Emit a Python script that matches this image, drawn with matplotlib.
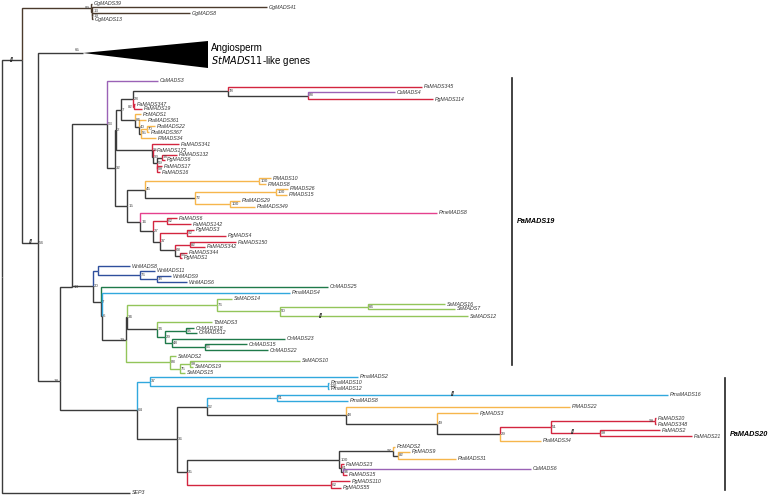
import matplotlib
matplotlib.use("Agg")
import matplotlib.pyplot as plt
from matplotlib.patches import Polygon

plt.rcParams["font.family"] = ["Liberation Sans", "DejaVu Sans"]

# ---------------------------------------------------------------------------
# Tree data.  Tip = (name, depth, row);  node = (support, depth, [children]).
# ---------------------------------------------------------------------------
GG_CLADE = ("89", 91, [
    ("GgMADS39", 92, 4),
    ("13", 92, [("GgMADS41", 267, 7),
                ("19", 92, [("GgMADS8", 190, 13), ("GgMADS13", 93, 19)])]),
])

PA19_UPPER = ("53", 107, [
    ("CaMADS3", 158, 81),
    ("32", 115, [
        ("2", 116, [
            ("7", 121, [
                ("28", 133, [
                    ("78", 228, [("PaMADS345", 422, 87),
                                 ("88", 308, [("CaMADS4", 395, 92), ("PgMADS114", 433, 99)])]),
                    ("82", 134, [("PaMADS347", 135, 104), ("PaMADS19", 142, 109)]),
                ]),
                ("84", 135, [
                    ("PcMADS1", 141, 114),
                    ("40", 139, [("PtaMADS361", 146, 120),
                                 ("55", 141, [("70", 147, [("PtaMADS22", 155, 126), ("PtaMADS367", 149, 132)]),
                                              ("PlMADS34", 156, 138)])]),
                ]),
            ]),
            ("95", 152, [("PaMADS341", 179, 144),
                         ("90", 153, [("PaMADS172", 155, 150),
                                      ("59", 157, [("74", 162, [("PaMADS132", 177, 155), ("PgMADS6", 165, 160)]),
                                                   ("99", 157, [("PaMADS17", 162, 166), ("PaMADS16", 160, 172)])])])]),
        ]),
        ("15", 127, [
            ("45", 145, [("100", 259, [("PlMADS10", 271, 178), ("PlMADS8", 266, 184)]),
                         ("72", 195, [("100", 276, [("PlMADS26", 288, 189), ("PlMADS15", 287, 195)]),
                                      ("100", 230, [("PtaMADS29", 240, 201), ("PtaMADS349", 255, 207)])])]),
            ("16", 140, [("PmeMADS8", 437, 213),
                         ("27", 153, [("62", 167, [("PaMADS6", 177, 218), ("PaMADS142", 191, 224)]),
                                      ("37", 160, [("92", 187, [("PgMADS3", 194, 230), ("PgMADS4", 226, 236)]),
                                                   ("68", 175, [("82", 190, [("PaMADS150", 236, 242), ("PaMADS342", 205, 247)]),
                                                                ("56", 180, [("PaMADS344", 187, 253), ("PgMADS1", 182, 258)])])])])]),
        ]),
    ]),
])

PA19_LOWER = ("20", 93, [
    ("", 98, [("WnMADS8", 130, 266),
              ("76", 140, [("WnMADS11", 155, 271),
                           ("78", 157, [("WnMADS9", 171, 276), ("WnMADS6", 187, 282)])])]),
    ("7", 101, [
        ("ChMADS25", 328, 287),
        ("6", 102, [
            ("PmaMADS4", 290, 293),
            ("19", 126, [
                ("34", 127, [
                    ("76", 217, [("SsMADS14", 232, 299),
                                 ("50", 280, [("66", 368, [("SsMADS16", 445, 304), ("SsMADS7", 455, 309)]),
                                              ("SsMADS12", 468, 316)])]),
                    ("74", 157, [("TbMADS3", 212, 322),
                                 ("29", 165, [("95", 186, [("ChMADS18", 194, 328), ("ChMADS12", 197, 333)]),
                                              ("48", 172, [("ChMADS23", 285, 339),
                                                           ("56", 205, [("ChMADS15", 247, 344), ("ChMADS22", 268, 350)])])])]),
                ]),
                ("88", 170, [("SsMADS2", 176, 356),
                             ("75", 180, [("99", 190, [("SsMADS10", 300, 361), ("SsMADS19", 193, 367)]),
                                          ("SsMADS15", 185, 373)])]),
            ]),
        ]),
    ]),
])

PA20_CLADE = ("64", 137, [
    ("37", 150, [("PmaMADS2", 358, 377),
                 ("100", 328, [("PmaMADS10", 329, 383), ("PmaMADS12", 329, 389)])]),
    ("36", 177, [
        ("52", 207, [
            ("51", 277, [("PmaMADS16", 668, 395), ("PmaMADS8", 348, 401)]),
            ("48", 346, [("PlMADS22", 570, 407),
                         ("49", 437, [("PpMADS3", 478, 413),
                                      ("29", 500, [("51", 551, [("99", 655, [("PaMADS20", 656, 418), ("PaMADS348", 656, 424)]),
                                                                ("99", 600, [("PaMADS2", 660, 430), ("PaMADS21", 692, 436)])]),
                                                   ("PtaMADS34", 541, 441)])])]),
        ]),
        ("35", 187, [
            ("100", 339, [("97", 393, [("PcMADS2", 395, 447),
                                       ("82", 398, [("PpMADS9", 410, 452), ("PtaMADS31", 456, 459)])]),
                          ("61", 341, [("PaMADS23", 344, 464),
                                       ("96", 343, [("CaMADS6", 531, 469), ("PaMADS15", 347, 475)])])]),
            ("62", 331, [("PgMADS110", 350, 481), ("PgMADS55", 341, 488)]),
        ]),
    ]),
])

TREE = ("", 2, [
    ("", 22, [GG_CLADE,
              ("54", 38, [("Angiosperm", 83, 53),
                          ("18", 60, [("14", 72, [PA19_UPPER, PA19_LOWER]), PA20_CLADE])])]),
    ("SEP3", 130, 493),
])

# hand-placed backbone nodes (the published figure was edited by hand)
NODE_ROW = {("", 22): 60, ("54", 38): 243, ("18", 60): 381, ("14", 72): 287}

# collapsed angiosperm clade: support, far depth, row span
ANGIO_SUPPORT = "65"
ANGIO_DEPTH = 208
ANGIO_ROWS = (41, 68)

# shortened branches (child name, child depth) -> position along branch
BREAKS = {("", 22): 0.5, ("54", 38): 0.56, ("SsMADS12", 468): 0.22,
          ("PmaMADS16", 668): 0.45, ("99", 600): 0.45}

# support values printed on the left side of their node
LEFT_LABELS = {("89", 91), ("82", 134), ("19", 126), ("97", 393), ("99", 655),
               ("18", 60)}

# clade brackets: label, x, top, bottom
BRACKETS = [("PaMADS19", 512, 78, 365), ("PaMADS20", 725, 378, 490)]

GROUP_COLORS = {
    "Gg": "#4b3a2c", "Ca": "#9a62b6", "Pa": "#d3253f", "Pg": "#d3253f",
    "Pc": "#f6b64c", "Pta": "#f6b64c", "Pl": "#f6b64c", "Pp": "#f6b64c",
    "Pme": "#e5418e", "Wn": "#2f4f9d", "Ch": "#1f7a4a", "Pma": "#31a8dd",
    "Ss": "#93c55a", "Tb": "#93c55a",
}
MIXED = "#3b3b3b"


def group_of(name):
    return name.split("MADS")[0] if "MADS" in name else name


def layout(node):
    name, x, rest = node
    if not isinstance(rest, list):
        return {"name": name, "x": x, "y": rest, "kids": [], "groups": {group_of(name)}}
    kids = [layout(c) for c in rest]
    y = NODE_ROW.get((name, x), (kids[0]["y"] + kids[-1]["y"]) / 2)
    groups = set().union(*(k["groups"] for k in kids))
    return {"name": name, "x": x, "y": y, "kids": kids, "groups": groups}


def draw(ax, n):
    for k in n["kids"]:
        g = k["groups"]
        col = GROUP_COLORS.get(next(iter(g)), MIXED) if len(g) == 1 else MIXED
        ax.plot([n["x"], n["x"], k["x"]], [n["y"], k["y"], k["y"]], color=col,
                lw=1.0, solid_joinstyle="miter", solid_capstyle="butt", zorder=2)
        frac = BREAKS.get((k["name"], k["x"]))
        if frac:
            bx = n["x"] + frac * (k["x"] - n["x"])
            ax.text(bx, k["y"], "//", fontsize=5, fontweight="bold", ha="center",
                    va="center", color="#222222", zorder=4)
        draw(ax, k)
    if n["kids"]:
        if n["name"]:
            left = (n["name"], n["x"]) in LEFT_LABELS
            ax.text(n["x"] - 1.2 if left else n["x"] + 1.2, n["y"], n["name"],
                    fontsize=3.2, ha="right" if left else "left", va="center",
                    color="#444444", zorder=3)
    elif n["name"] == "Angiosperm":
        ax.add_patch(Polygon([(n["x"], n["y"]), (ANGIO_DEPTH, ANGIO_ROWS[0]),
                              (ANGIO_DEPTH, ANGIO_ROWS[1])], closed=True,
                             color="black", lw=0))
        ax.text(n["x"] - 3, n["y"] - 1, ANGIO_SUPPORT, fontsize=3.2, ha="right",
                va="bottom", color="#444444")
        ax.text(ANGIO_DEPTH + 3, n["y"] - 5, "Angiosperm", fontsize=7,
                ha="left", va="center")
        ax.text(ANGIO_DEPTH + 3, n["y"] + 8, r"$\it{StMADS11}$-like genes",
                fontsize=7, ha="left", va="center")
    else:
        ax.text(n["x"] + 1.5, n["y"], n["name"], fontsize=3.8, style="italic",
                ha="left", va="center", color="#333333")


fig = plt.figure(figsize=(7.72, 4.96), dpi=100)
ax = fig.add_axes([0, 0, 1, 1])
ax.set_xlim(0, 772)
ax.set_ylim(496, 0)
ax.axis("off")

root = layout(TREE)
draw(ax, root)

for label, bx, top, bottom in BRACKETS:
    ax.plot([bx, bx], [top, bottom], color="#222222", lw=1.2)
    ax.text(bx + 5, (top + bottom) / 2, label, fontsize=5.2, fontweight="bold",
            style="italic", ha="left", va="center")

fig.savefig("out.png", dpi=100)
